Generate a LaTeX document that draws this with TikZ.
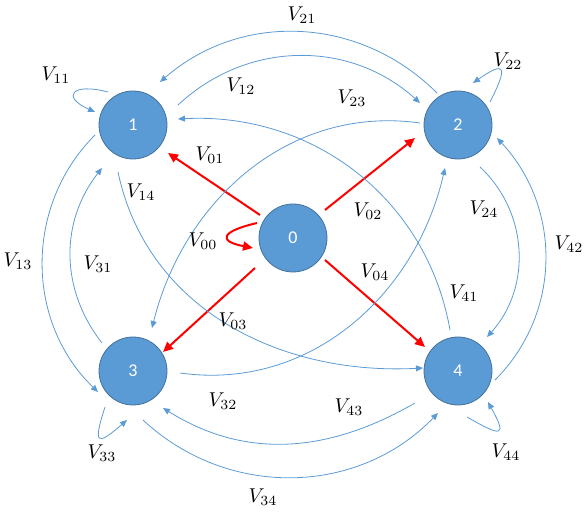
\documentclass[tikz,border=0pt]{standalone}
\usepackage{fontspec}
\setsansfont{Carlito}
\usepackage{tikz}
\usetikzlibrary{arrows.meta,calc}

\definecolor{stateblue}{HTML}{5B9BD5}
\definecolor{stateline}{HTML}{41719C}
\definecolor{edgeblue}{HTML}{5B9BD5}

\begin{document}
\begin{tikzpicture}[x=1pt,y=1pt,
  state/.style={circle,fill=stateblue,draw=stateline,line width=0.8pt,
    minimum size=68pt,inner sep=0pt,text=white,
    font=\fontsize{18}{20}\selectfont\sffamily},
  edge/.style={edgeblue,line width=0.8pt,-{Triangle[length=7pt,width=6pt]}},
  redge/.style={red,line width=2pt,-{Triangle[length=10pt,width=9pt]}},
  lbl/.style={scale=2,inner sep=0pt}]
  \useasboundingbox (0,0) rectangle (584,512);

  % states
  \node[state] (n0) at (293,274) {0};
  \node[state] (n1) at (133,387) {1};
  \node[state] (n2) at (458,387) {2};
  \node[state] (n3) at (133,141) {3};
  \node[state] (n4) at (458,141) {4};

  % transitions out of 0
  \draw[redge] ($(n0)+(-36,15)$) to[out=193,in=169,looseness=3.7] ($(n0)+(-40,-10)$);
  \draw[redge] ($(n0)+(-33,23)$) -- ($(n1)+(35,-28)$);
  \draw[redge] ($(n0)+(32,28)$) -- ($(n2)+(-43,-13)$);
  \draw[redge] ($(n0)+(-38,-30)$) -- ($(n3)+(30,19)$);
  \draw[redge] ($(n0)+(32,-22)$) -- ($(n4)+(-33,24)$);

  % self loops
  \draw[edge] ($(n1)+(-25,33)$) to[out=165,in=156,looseness=4] ($(n1)+(-38,13)$);
  \draw[edge] ($(n2)+(32,23)$) to[out=63,in=35,looseness=4] ($(n2)+(15,42)$);
  \draw[edge] ($(n3)+(-28,-36)$) to[out=252,in=221,looseness=4] ($(n3)+(-6,-49)$);
  \draw[edge] ($(n4)+(9,-46)$) to[out=-30,in=299,looseness=4] ($(n4)+(30,-31)$);

  % transitions between 1..4
  \draw[edge] ($(n2)+(-21,32)$) to[out=135,in=41] ($(n1)+(27,43)$);
  \draw[edge] ($(n1)+(45,20)$) to[out=43,in=138] ($(n2)+(-38,22)$);
  \draw[edge] ($(n2)+(-38,2)$) to[out=172,in=76] ($(n3)+(19,43)$);
  \draw[edge] ($(n4)+(-8,41)$) to[out=100,in=3] ($(n1)+(45,6)$);
  \draw[edge] ($(n1)+(-15,-47)$) to[out=-78,in=183] ($(n4)+(-35,3)$);
  \draw[edge] ($(n3)+(47,-2)$) to[out=-8,in=257] ($(n2)+(-13,-43)$);
  \draw[edge] ($(n1)+(-38,-10)$) to[out=225,in=136] ($(n3)+(-35,-21)$);
  \draw[edge] ($(n3)+(-31,28)$) to[out=128,in=232] ($(n1)+(-31,-43)$);
  \draw[edge] ($(n2)+(22,-42)$) to[out=-43,in=48] ($(n4)+(29,34)$);
  \draw[edge] ($(n4)+(37,-9)$) to[out=45,in=-47] ($(n2)+(39,-13)$);
  \draw[edge] ($(n4)+(-43,-32)$) to[out=210,in=-32] ($(n3)+(30,-37)$);
  \draw[edge] ($(n3)+(10,-49)$) to[out=-43,in=226] ($(n4)+(-20,-42)$);

  % labels
  \foreach \ij/\x/\y in {00/203/271,01/210/357,02/368/301,03/233/191,04/375/240,
      11/56/437,12/241/426,13/18/251,14/141/320,21/302/497,22/508/451,
      23/352/414,24/484/303,31/98/248,32/223/111,33/102/59,34/263/15,
      41/464/219,42/569/268,43/349/105,44/506/60}
    \node[lbl] (l\ij) at (\x,\y) {$V_{\ij}$};
\end{tikzpicture}
\end{document}
